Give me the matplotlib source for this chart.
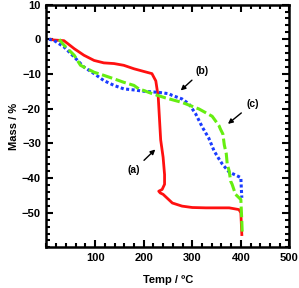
import matplotlib
matplotlib.use("Agg")
import matplotlib.pyplot as plt
from matplotlib.ticker import MultipleLocator, FixedLocator

plt.rcParams['font.family'] = ['Liberation Sans', 'DejaVu Sans']
plt.rcParams['font.weight'] = 'bold'

# (a) red, solid
red_t = [9, 15, 36, 57, 77, 98, 118, 139, 159, 180, 201, 217, 225, 230, 235, 240,
         243, 243, 238, 231, 234, 240, 259, 279, 300, 328, 376, 396, 400, 402]
red_m = [0, -0.2, -0.4, -2.7, -4.6, -6.1, -6.8, -7.0, -7.5, -8.5, -9.3, -9.9, -12, -16.7,
         -29, -34, -39, -41.8, -43.3, -43.8, -44.3, -44.7, -47.2, -48.1, -48.5, -48.6,
         -48.6, -49.1, -50, -56.3]

# (b) blue, dotted
blue_t = [5, 15, 36, 57, 77, 98, 118, 139, 159, 180, 201, 231, 252, 259, 279, 293, 307,
          321, 334, 345, 355, 362, 376, 390, 400, 401, 402]
blue_m = [0, -0.3, -2.2, -5.1, -8.0, -9.9, -11.9, -13.3, -14.3, -14.6, -15.0, -15.3,
          -15.7, -16.2, -17.2, -18.6, -21.5, -25.4, -28.5, -32.2, -34.5, -36, -38.3,
          -39.2, -39.9, -43, -45.7]

# (c) green, dashed
green_t = [26, 36, 57, 70, 98, 118, 139, 159, 180, 190, 201, 218, 245, 279, 314, 341,
           355, 358, 363, 366, 370, 372, 376, 379, 382, 389, 400, 402, 403]
green_m = [0, -1.7, -4.6, -7.5, -9.5, -10.4, -11.4, -12.4, -13.3, -14.3, -14.8, -15.7,
           -16.9, -18.2, -20.1, -22.2, -24.9, -25.9, -27.3, -30.5, -33, -36, -38, -40.9,
           -41.8, -44.7, -46.2, -52.5, -56.3]

x_ticks = [100, 200, 300, 400, 500]
y_ticks = [10, 0, -10, -20, -30, -40, -50]

fig = plt.figure(figsize=(2.99, 2.88), dpi=100)
ax = fig.add_axes([0.1555, 0.141, 0.8125, 0.843])

ax.plot(red_t, red_m, color='#ff1010', lw=2.0, solid_joinstyle='round')
ax.plot(blue_t, blue_m, color='#1a3cff', lw=2.2, linestyle=(0, (1, 0.8)),
        dash_capstyle='butt')
ax.plot(green_t, green_m, color='#66ee11', lw=2.2, linestyle=(0, (3.5, 1.2)),
        dash_capstyle='butt')

ax.set_xlim(0, 500)
ax.set_ylim(-60, 10)
ax.xaxis.set_major_locator(FixedLocator(x_ticks))
ax.yaxis.set_major_locator(FixedLocator(y_ticks))
ax.xaxis.set_minor_locator(MultipleLocator(20))
ax.yaxis.set_minor_locator(MultipleLocator(2))
ax.set_xticklabels([str(v) for v in x_ticks], fontsize=8, fontweight='bold')
ax.set_yticklabels([str(v).replace('-', '\u2212') for v in y_ticks], fontsize=8,
                   fontweight='bold')
ax.tick_params(which='both', direction='in', top=True, right=True, width=1.5)
ax.tick_params(which='major', length=5, pad=4)
ax.tick_params(which='minor', length=3)
for s in ax.spines.values():
    s.set_linewidth(1.8)

ax.set_xlabel('Temp / \u00baC', fontsize=8, fontweight='bold', labelpad=9)
ax.set_ylabel('Mass / %', fontsize=8, fontweight='bold', labelpad=2)

arrow = dict(arrowstyle='-|>', color='black', lw=1.0, mutation_scale=7)
ax.annotate('(a)', xy=(228, -31.2), xytext=(180, -37.7), fontsize=7.5,
            fontweight='bold', ha='center', va='center', arrowprops=arrow)
ax.annotate('(b)', xy=(272, -15.3), xytext=(321, -9), fontsize=7.5,
            fontweight='bold', ha='center', va='center', arrowprops=arrow)
ax.annotate('(c)', xy=(369, -24.9), xytext=(424, -18.6), fontsize=7.5,
            fontweight='bold', ha='center', va='center', arrowprops=arrow)

fig.savefig('out.png', dpi=100)
